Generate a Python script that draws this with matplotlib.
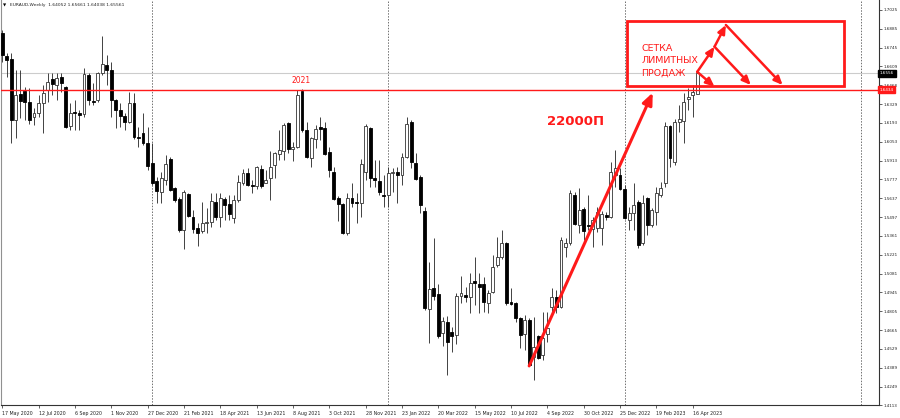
import matplotlib
matplotlib.use("Agg")
import matplotlib.pyplot as plt
from matplotlib.patches import Rectangle
import numpy as np

# EURAUD weekly candles (17 May 2020 .. 7 May 2023)
opens = [
    1.6852, 1.6683, 1.6661, 1.6212, 1.6403, 1.6425, 1.6344, 1.6234, 1.6263, 1.6337,
    1.6433, 1.6514, 1.6469, 1.6528, 1.6455, 1.6168, 1.6271, 1.6263, 1.6256, 1.6543,
    1.6352, 1.6359, 1.6558, 1.6617, 1.6580, 1.6359, 1.6285, 1.6241, 1.6197, 1.6337,
    1.6087, 1.6116, 1.6043, 1.5895, 1.5763, 1.5682, 1.5770, 1.5925, 1.5711, 1.5630,
    1.5402, 1.5667, 1.5498, 1.5417, 1.5395, 1.5454, 1.5461, 1.5608, 1.5498, 1.5630,
    1.5594, 1.5490, 1.5623, 1.5748, 1.5822, 1.5733, 1.5726, 1.5851, 1.5748, 1.5785,
    1.5881, 1.5962, 1.5984, 1.6190, 1.5998, 1.6013, 1.6425, 1.6138, 1.5932, 1.6072,
    1.6160, 1.6153, 1.5976, 1.5829, 1.5638, 1.5594, 1.5380, 1.5638, 1.5608, 1.5601,
    1.5829, 1.6153, 1.5785, 1.5763, 1.5660, 1.5660, 1.5822, 1.5829, 1.5807, 1.5940,
    1.6197, 1.5895, 1.5792, 1.5542, 1.4821, 1.4975, 1.4931, 1.4644, 1.4725, 1.4651,
    1.4629, 1.4916, 1.4924, 1.4909, 1.5027, 1.5005, 1.5005, 1.4865, 1.4946, 1.5145,
    1.5204, 1.5307, 1.4872, 1.4865, 1.4755, 1.4637, 1.4740, 1.4467, 1.4622, 1.4482,
    1.4637, 1.4836, 1.4909, 1.4836, 1.5277, 1.5307, 1.5660, 1.5439, 1.5557, 1.5439,
    1.5410, 1.5417, 1.5417, 1.5513, 1.5498, 1.5807, 1.5807, 1.5704, 1.5476, 1.5527,
    1.5608, 1.5307, 1.5638, 1.5439, 1.5535, 1.5660, 1.5748, 1.6168, 1.5903, 1.6197,
    1.6204, 1.6366, 1.6396, 1.64052,
]
highs = [
    1.6874, 1.6705, 1.6705, 1.6580, 1.6580, 1.6455, 1.6447, 1.6300, 1.6396, 1.6469,
    1.6558, 1.6558, 1.6558, 1.6558, 1.6462, 1.6337, 1.6359, 1.6285, 1.6595, 1.6558,
    1.6484, 1.6565, 1.6830, 1.6690, 1.6639, 1.6366, 1.6337, 1.6263, 1.6418, 1.6411,
    1.6160, 1.6263, 1.6160, 1.6043, 1.5792, 1.5829, 1.5954, 1.5940, 1.5719, 1.5645,
    1.5697, 1.5675, 1.5549, 1.5454, 1.5608, 1.5564, 1.5675, 1.5675, 1.5675, 1.5645,
    1.5660, 1.5660, 1.5807, 1.5851, 1.5859, 1.5770, 1.5873, 1.5881, 1.5844, 1.5984,
    1.5976, 1.6138, 1.6190, 1.6195, 1.6050, 1.6433, 1.6440, 1.6197, 1.6087, 1.6175,
    1.6234, 1.6197, 1.6013, 1.5866, 1.5652, 1.5601, 1.5675, 1.5748, 1.5675, 1.5925,
    1.6182, 1.6160, 1.5917, 1.5917, 1.5807, 1.5866, 1.5859, 1.5866, 1.5969, 1.6234,
    1.6212, 1.5969, 1.5807, 1.5571, 1.5167, 1.5343, 1.5005, 1.4762, 1.4769, 1.4688,
    1.4939, 1.5064, 1.4983, 1.5086, 1.5204, 1.5086, 1.5056, 1.4961, 1.5218, 1.5351,
    1.5402, 1.5314, 1.4975, 1.4872, 1.4762, 1.4777, 1.4755, 1.4762, 1.4629, 1.4799,
    1.4799, 1.4975, 1.4961, 1.5351, 1.5343, 1.5697, 1.5682, 1.5711, 1.5571, 1.5660,
    1.5498, 1.5571, 1.5542, 1.5535, 1.5903, 1.5991, 1.5859, 1.5733, 1.5571, 1.5748,
    1.5623, 1.5660, 1.5645, 1.5564, 1.5719, 1.5755, 1.6197, 1.6175, 1.6219, 1.6322,
    1.6411, 1.6447, 1.6469, 1.65661,
]
lows = [
    1.6639, 1.6528, 1.6043, 1.6079, 1.6227, 1.6212, 1.6182, 1.6175, 1.6234, 1.6116,
    1.6344, 1.6396, 1.6359, 1.6418, 1.6153, 1.6138, 1.6138, 1.6138, 1.6234, 1.6322,
    1.6322, 1.6344, 1.6543, 1.6469, 1.6234, 1.6153, 1.6160, 1.6138, 1.6190, 1.6072,
    1.6013, 1.6028, 1.5844, 1.5733, 1.5601, 1.5601, 1.5733, 1.5689, 1.5608, 1.5388,
    1.5262, 1.5498, 1.5380, 1.5284, 1.5380, 1.5380, 1.5424, 1.5476, 1.5424, 1.5476,
    1.5476, 1.5454, 1.5608, 1.5733, 1.5726, 1.5675, 1.5704, 1.5711, 1.5745, 1.5623,
    1.5785, 1.5917, 1.5917, 1.5969, 1.5910, 1.6006, 1.6124, 1.5932, 1.5866, 1.6006,
    1.6065, 1.5954, 1.5792, 1.5623, 1.5468, 1.5373, 1.5365, 1.5571, 1.5454, 1.5498,
    1.5770, 1.5719, 1.5719, 1.5660, 1.5571, 1.5571, 1.5682, 1.5601, 1.5733, 1.5932,
    1.5859, 1.5770, 1.5527, 1.4813, 1.4571, 1.4887, 1.4607, 1.4548, 1.4335, 1.4504,
    1.4563, 1.4865, 1.4872, 1.4791, 1.4850, 1.4791, 1.4799, 1.4791, 1.4939, 1.5130,
    1.5189, 1.4850, 1.4850, 1.4725, 1.4534, 1.4519, 1.4401, 1.4298, 1.4453, 1.4445,
    1.4578, 1.4791, 1.4791, 1.4828, 1.5204, 1.5292, 1.5439, 1.5380, 1.5329, 1.5402,
    1.5277, 1.5388, 1.5292, 1.5476, 1.5490, 1.5719, 1.5697, 1.5483, 1.5402, 1.5402,
    1.5270, 1.5292, 1.5365, 1.5424, 1.5439, 1.5645, 1.5719, 1.5866, 1.5881, 1.6124,
    1.6043, 1.6285, 1.6234, 1.64038,
]
closes = [
    1.6690, 1.6653, 1.6212, 1.6396, 1.6352, 1.6344, 1.6212, 1.6263, 1.6337, 1.6411,
    1.6491, 1.6477, 1.6521, 1.6484, 1.6160, 1.6263, 1.6260, 1.6249, 1.6550, 1.6359,
    1.6344, 1.6558, 1.6624, 1.6580, 1.6359, 1.6285, 1.6241, 1.6197, 1.6337, 1.6087,
    1.6079, 1.6043, 1.5873, 1.5748, 1.5689, 1.5785, 1.5888, 1.5697, 1.5623, 1.5402,
    1.5682, 1.5505, 1.5410, 1.5380, 1.5454, 1.5461, 1.5616, 1.5498, 1.5638, 1.5586,
    1.5520, 1.5623, 1.5755, 1.5822, 1.5733, 1.5726, 1.5866, 1.5726, 1.5770, 1.5866,
    1.5969, 1.5991, 1.6175, 1.5998, 1.6013, 1.6396, 1.6138, 1.5940, 1.6079, 1.6146,
    1.6146, 1.5962, 1.5844, 1.5630, 1.5594, 1.5380, 1.5638, 1.5601, 1.5601, 1.5888,
    1.6168, 1.5785, 1.5770, 1.5682, 1.5652, 1.5822, 1.5829, 1.5807, 1.5940, 1.6182,
    1.5903, 1.5778, 1.5586, 1.4828, 1.4968, 1.4916, 1.4622, 1.4732, 1.4578, 1.4622,
    1.4916, 1.4939, 1.4909, 1.5012, 1.5012, 1.4983, 1.4872, 1.4939, 1.5130, 1.5204,
    1.5307, 1.4865, 1.4857, 1.4755, 1.4629, 1.4740, 1.4409, 1.4541, 1.4460, 1.4607,
    1.4681, 1.4909, 1.4836, 1.5329, 1.5307, 1.5675, 1.5446, 1.5549, 1.5395, 1.5432,
    1.5476, 1.5535, 1.5520, 1.5498, 1.5829, 1.5859, 1.5704, 1.5490, 1.5527, 1.5586,
    1.5292, 1.5601, 1.5439, 1.5549, 1.5675, 1.5711, 1.6168, 1.5932, 1.6197, 1.6219,
    1.6344, 1.6381, 1.6418, 1.65561,
]

date_labels = [
    "17 May 2020", "12 Jul 2020", "6 Sep 2020", "1 Nov 2020", "27 Dec 2020",
    "21 Feb 2021", "18 Apr 2021", "13 Jun 2021", "8 Aug 2021", "3 Oct 2021",
    "28 Nov 2021", "23 Jan 2022", "20 Mar 2022", "15 May 2022", "10 Jul 2022",
    "4 Sep 2022", "30 Oct 2022", "25 Dec 2022", "19 Feb 2023", "16 Apr 2023",
]
label_every = 8
price_ticks = [
    1.7025, 1.6885, 1.6745, 1.6609, 1.6468, 1.6329, 1.6193, 1.6053, 1.5913, 1.5777,
    1.5637, 1.5497, 1.5361, 1.5221, 1.5081, 1.4945, 1.4805, 1.4665, 1.4529, 1.4389,
    1.4249, 1.4113,
]
year_starts = [33, 85, 137, 189]
level_2021 = 1.6434
bid_price = 1.6556

RED = "#ff1a1a"

fig = plt.figure(figsize=(9, 4.18), dpi=100)
ax = fig.add_axes([0.0006, 0.031, 0.976, 0.969])

o, h, l, c = (np.array(v) for v in (opens, highs, lows, closes))
x = np.arange(len(o))
up = c >= o
lo = np.minimum(o, c)
hgt = np.maximum(np.abs(c - o), 0.0003)

ax.vlines(x, l, h, color="#333333", lw=0.65, zorder=2)
ax.bar(x[up], hgt[up], bottom=lo[up], width=0.64, color="white",
       edgecolor="#333333", linewidth=0.6, zorder=3)
ax.bar(x[~up], hgt[~up], bottom=lo[~up], width=0.64, color="black",
       edgecolor="black", linewidth=0.6, zorder=3)

for ys in year_starts:
    ax.axvline(ys, color="#707070", lw=0.7, ls=(0, (1.5, 1.5)), zorder=1)

ax.axhline(bid_price, color="#cccccc", lw=0.8, zorder=1)
ax.axhline(level_2021, color=RED, lw=1.0, zorder=4)

ax.set_xlim(-0.37, 193.0)
ax.set_ylim(1.4113, 1.7095)

ax.yaxis.tick_right()
ax.set_yticks(price_ticks)
ax.set_yticklabels([f"{p:.4f}" for p in price_ticks])
ax.set_xticks(x[::label_every])
ax.set_xticklabels(date_labels, ha="left")
ax.tick_params(axis="both", labelsize=3.4, length=2, width=0.5, pad=1.5,
               colors="#222222")
ax.tick_params(axis="y", labelsize=3.0, pad=1.0)
ax.tick_params(axis="x", pad=2)

ax.spines["top"].set_visible(False)
ax.spines["left"].set_color("#909090")
for s in ("right", "bottom"):
    ax.spines[s].set_color("#333333")
    ax.spines[s].set_linewidth(0.8)

ytr = ax.get_yaxis_transform()
ax.text(1.001, bid_price, f"{bid_price:.4f}", transform=ytr, fontsize=3.0,
        color="white", va="center", ha="left", zorder=10, clip_on=False,
        bbox=dict(boxstyle="square,pad=0.35", fc="black", ec="black"))
ax.text(1.001, level_2021, f"{level_2021:.4f}", transform=ytr, fontsize=3.0,
        color="white", va="center", ha="left", zorder=10, clip_on=False,
        bbox=dict(boxstyle="square,pad=0.35", fc=RED, ec=RED))

fig.text(0.003, 0.992, "\u25bc", fontsize=3, va="top", color="black")
fig.text(0.011, 0.993,
         f"EURAUD,Weekly  {opens[-1]:.5f} {highs[-1]:.5f} {lows[-1]:.5f} {closes[-1]:.5f}",
         fontsize=3.2, va="top", color="#222222")

# annotations
ax.text(65.8, 1.6506, "2021", color=RED, fontsize=5.5, ha="center", va="center")
ax.text(126.2, 1.6197, "22000П", color=RED, fontsize=9.5, fontweight="bold",
        ha="center", va="center")
ax.annotate("", xy=(143.2, 1.6413), xytext=(116, lows[116]),
            arrowprops=dict(arrowstyle="-|>,head_length=0.7,head_width=0.3",
                            color=RED, lw=2.2, shrinkA=0, shrinkB=0))

ax.add_patch(Rectangle((137.6, 1.6464), 47.7, 0.0476, fill=False,
                       edgecolor=RED, lw=2.0, zorder=6))
ax.text(140.7, 1.6646, "СЕТКА\nЛИМИТНЫХ\nПРОДАЖ", color=RED, fontsize=6.8,
        ha="left", va="center", linespacing=1.45)

zig = [(153, highs[-1]), (156.8, 1.6751), (159.3, 1.6911)]
targets = [(156.8, 1.6457), (164.8, 1.6469), (171.8, 1.6469)]
style = dict(arrowstyle="-|>,head_length=0.5,head_width=0.22", color=RED,
             lw=1.8, shrinkA=0, shrinkB=0)
for a, b in zip(zig[:-1], zig[1:]):
    ax.annotate("", xy=b, xytext=a, arrowprops=style)
for a, b in zip(zig, targets):
    ax.annotate("", xy=b, xytext=a, arrowprops=style)

fig.savefig("out.png", dpi=100)
